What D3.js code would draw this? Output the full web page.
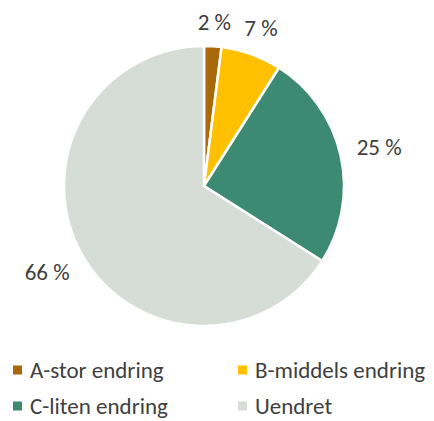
<!DOCTYPE html>
<html><head><meta charset="utf-8">
<script src="https://cdn.jsdelivr.net/npm/d3@7"></script>
<style>body{margin:0;background:#fff}svg{display:block}</style>
</head><body>
<svg id="c" width="434" height="421"></svg>
<script>
const categories = ["A-stor endring", "B-middels endring", "C-liten endring", "Uendret"];
const values = [2, 7, 25, 66];
const labels = ["2 %", "7 %", "25 %", "66 %"];
const colors = ["#A8690A", "#FFC000", "#3D8A73", "#D6DCD6"];

const svg = d3.select("#c");
const cx = 204, cy = 186, r = 140;
const font = "Carlito, Calibri, 'Open Sans', sans-serif";
const fs = 23;

const pie = d3.pie().sort(null).value(d => d)(values);
const arc = d3.arc().innerRadius(0).outerRadius(r);
const g = svg.append("g").attr("transform", `translate(${cx},${cy})`);
g.selectAll("path").data(pie).join("path")
  .attr("d", arc)
  .attr("fill", (d, i) => colors[i])
  .attr("stroke", "#fff").attr("stroke-width", 2.5).attr("stroke-linejoin", "round");

// Labels placed outside: nearest bbox edge at fixed gap from the arc
const gap = 16;
g.selectAll("text.lbl").data(pie).join("text").attr("class", "lbl")
  .attr("text-anchor", "middle").attr("dy", "0.35em")
  .attr("font-family", font).attr("font-size", fs).attr("fill", "#404040")
  .text((d, i) => labels[i])
  .each(function(d) {
    const bb = this.getBBox();
    const a = (d.startAngle + d.endAngle) / 2;
    const s = Math.sin(a), c = Math.cos(a);
    const rr = r + gap + Math.abs(s) * bb.width / 2 + Math.abs(c) * fs * 0.6 / 2;
    d3.select(this).attr("transform", `translate(${rr * s},${-rr * c})`);
  });

const legend = svg.append("g");
const lx = d3.scaleOrdinal().domain([0, 1]).range([13, 238]);
const ly = d3.scaleOrdinal().domain([0, 1]).range([370, 406]);
categories.forEach((c, i) => {
  const col = i % 2, row = Math.floor(i / 2);
  const item = legend.append("g").attr("transform", `translate(${lx(col)},${ly(row)})`);
  item.append("rect").attr("x", 0).attr("y", -4.5).attr("width", 9).attr("height", 9).attr("fill", colors[i]);
  item.append("text").attr("x", 17).attr("y", 0).attr("dy", "0.33em")
    .attr("font-family", font).attr("font-size", fs).attr("fill", "#404040").text(c);
});
</script>
</body></html>
